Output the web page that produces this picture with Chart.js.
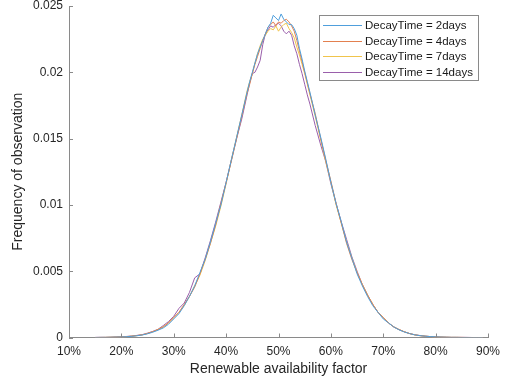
<!DOCTYPE html>
<html>
<head>
<meta charset="utf-8">
<script src="https://cdn.jsdelivr.net/npm/chart.js@4.4.0/dist/chart.umd.min.js"></script>
<style>
  html, body { margin:0; padding:0; background:#fff; }
  canvas { display:block; }
</style>
</head>
<body>
<canvas id="chart" width="505" height="383"></canvas>
<script>
// renewable availability factor (%), 1% steps in the tails, 0.5% near the peak
const xs = [15,16,17,18,19,20,21,22,23,24,25,26,27,28,29,30,31,32,33,34,35,36,37,38,39,40,41,42,43,
  44,44.5,45,45.5,46,46.5,47,47.5,48,48.5,49,49.5,50,50.5,51,51.5,52,52.5,53,53.5,54,54.5,55,55.5,56,
  57,58,59,60,61,62,63,64,65,66,67,68,69,70,71,72,73,74,75,76,77,78,79,80,81,82,83,84,85,86,87,88,89];

const decay2 = [0,0.00001,0.00001,0.00002,0.00003,0.00004,0.00006,0.00009,0.00013,0.00019,
  0.00028,0.0004,0.00055,0.00072,0.001,0.0014,0.0018,0.0024,0.0031,0.0039,
  0.0049,0.0059,0.0072,0.0086,0.0100,0.0117,0.0134,0.0151,0.0168,
  0.0185,0.0193,0.0200,0.0207,0.0214,0.0219,0.0224,0.0229,0.0234,0.0237,0.0243,0.0241,0.0239,
  0.0244,0.0240,0.0238,0.0236,0.0236,0.0233,0.0228,0.0218,0.0210,0.0201,0.0193,0.0185,
  0.0168,0.0152,0.0135,0.0117,0.0101,0.0087,0.0072,0.0060,0.0048,0.0039,
  0.0031,0.0024,0.0019,0.0014,0.0011,0.0008,0.00058,0.00042,0.0003,0.0002,
  0.00014,0.0001,0.00007,0.00005,0.00003,0.00002,0.00001,0.00001,0,0,0,0,0];

const decay4 = [0,0.00001,0.00001,0.00002,0.00003,0.00005,0.00007,0.0001,0.00015,0.0002,
  0.00031,0.00044,0.0006,0.0008,0.0011,0.0015,0.0019,0.0025,0.0031,0.0038,
  0.0048,0.0059,0.0071,0.0085,0.0101,0.0117,0.0133,0.0150,0.0167,
  0.0184,0.0191,0.0199,0.0206,0.0212,0.0218,0.0224,0.0229,0.0234,0.0236,0.0238,0.0235,0.0238,
  0.0237,0.0239,0.0240,0.0238,0.0235,0.0231,0.0224,0.0216,0.0208,0.0200,0.0192,0.0184,
  0.0169,0.0151,0.0134,0.0118,0.0101,0.0086,0.0071,0.0059,0.0049,0.0040,
  0.0032,0.0025,0.0019,0.0015,0.0011,0.0008,0.0006,0.00044,0.0003,0.0002,
  0.00014,0.0001,0.00007,0.00005,0.00003,0.00002,0.00001,0.00001,0.00001,0,0,0,0];

const decay7 = [0,0,0.00001,0.00002,0.00003,0.00005,0.00007,0.0001,0.00014,0.0002,
  0.0003,0.00043,0.0006,0.0008,0.0011,0.0015,0.0019,0.0024,0.0031,0.0039,
  0.0047,0.0058,0.0071,0.0084,0.0099,0.0116,0.0134,0.0151,0.0168,
  0.0186,0.0193,0.0199,0.0207,0.0214,0.0220,0.0225,0.0228,0.0231,0.0233,0.0232,0.0235,0.0231,
  0.0234,0.0236,0.0237,0.0233,0.0230,0.0226,0.0219,0.0213,0.0206,0.0199,0.0191,0.0183,
  0.0167,0.0150,0.0133,0.0117,0.0100,0.0086,0.0072,0.0060,0.0049,0.0040,
  0.0032,0.0025,0.0019,0.0015,0.0011,0.0008,0.0006,0.00043,0.0003,0.0002,
  0.00014,0.0001,0.00007,0.00004,0.00003,0.00002,0.00001,0.00001,0,0,0,0,0];

const decay14 = [0.00001,0.00001,0.00001,0.00002,0.00004,0.00005,0.00008,0.00011,0.00016,0.00022,
  0.00033,0.00046,0.00062,0.0009,0.0012,0.0016,0.0022,0.0026,0.0034,0.0045,
  0.0048,0.0060,0.0073,0.0087,0.0102,0.0117,0.0134,0.0150,0.0165,
  0.0183,0.0192,0.0199,0.0200,0.0204,0.0209,0.0221,0.0229,0.0232,0.0235,0.0234,0.0236,0.0237,
  0.0235,0.0231,0.0229,0.0231,0.0228,0.0220,0.0214,0.0206,0.0199,0.0191,0.0183,0.0176,
  0.0160,0.0146,0.0133,0.0116,0.0101,0.0087,0.0074,0.0061,0.0050,0.0040,
  0.0032,0.0025,0.0019,0.0015,0.0011,0.0008,0.0006,0.00043,0.0003,0.00021,
  0.00015,0.0001,0.00007,0.00005,0.00003,0.00002,0.00001,0.00001,0.00001,0.00001,0,0,0];

const seriesLabels = ['DecayTime = 2days', 'DecayTime = 4days', 'DecayTime = 7days', 'DecayTime = 14days'];
const seriesColors = ['#4f9fdc', '#e3804f', '#f0c44c', '#9a5fab'];
const xTicks = [10, 20, 30, 40, 50, 60, 70, 80, 90];
const yTicks = [0, 0.005, 0.01, 0.015, 0.02, 0.025];

const FONT = "'Liberation Sans', Arial, Helvetica, sans-serif";
const TEXT = '#262626';
const AXIS = '#8a8a8a';

const allSeries = [decay2, decay4, decay7, decay14];

// MATLAB style: ticks pointing inward
const inwardTicks = {
  id: 'inwardTicks',
  afterDraw(chart){
    const {ctx, chartArea:a, scales:{x, y}} = chart;
    ctx.save();
    ctx.strokeStyle = AXIS;
    ctx.lineWidth = 1;
    ctx.beginPath();
    xTicks.forEach(v => {
      const px = Math.round(x.getPixelForValue(v)) + 0.5;
      ctx.moveTo(px, a.bottom); ctx.lineTo(px, a.bottom - 4);
    });
    yTicks.forEach(v => {
      const py = Math.round(y.getPixelForValue(v)) + 0.5;
      ctx.moveTo(a.left, py); ctx.lineTo(a.left + 4, py);
    });
    ctx.stroke();
    ctx.restore();
  }
};

// boxed legend in the upper right corner of the axes
const boxLegend = {
  id: 'boxLegend',
  afterDraw(chart){
    const {ctx, chartArea:a} = chart;
    const w = 159, h = 65, rowH = 15.5;
    const left = Math.round(a.right - 10 - w), top = Math.round(a.top + 9);
    ctx.save();
    ctx.fillStyle = '#fff';
    ctx.fillRect(left, top, w, h);
    ctx.strokeStyle = '#8a8a8a';
    ctx.lineWidth = 1;
    ctx.strokeRect(left + 0.5, top + 0.5, w, h);
    ctx.font = '11.5px ' + FONT;
    ctx.textBaseline = 'middle';
    chart.data.datasets.forEach((ds, i) => {
      const cy = Math.round(top + 10 + i * rowH) + 0.5;
      ctx.strokeStyle = ds.borderColor;
      ctx.beginPath();
      ctx.moveTo(left + 4, cy); ctx.lineTo(left + 43, cy);
      ctx.stroke();
      ctx.fillStyle = '#1a1a1a';
      ctx.fillText(ds.label, left + 46, cy);
    });
    ctx.restore();
  }
};

new Chart(document.getElementById('chart'), {
  type: 'line',
  data: {
    datasets: allSeries.map((arr, i) => ({
      label: seriesLabels[i],
      data: xs.map((x, j) => ({x: x, y: arr[j]})),
      borderColor: seriesColors[i],
      borderWidth: 1,
      pointRadius: 0,
      tension: 0,
      fill: false
    }))
  },
  options: {
    responsive: false,
    animation: false,
    devicePixelRatio: 1,
    layout: { padding: { top: 6, right: 17, left: 0, bottom: 0 } },
    plugins: { legend: { display: false }, tooltip: { enabled: false } },
    scales: {
      x: {
        type: 'linear',
        min: 10, max: 90,
        afterBuildTicks: s => { s.ticks = xTicks.map(v => ({value: v})); },
        afterFit: s => { s.height = 45.5; s.paddingLeft = 0; s.paddingRight = 0; },
        grid: { display: false, drawTicks: false },
        border: { display: true, color: AXIS, width: 1 },
        ticks: { color: TEXT, font: { family: FONT, size: 12 }, padding: 7, maxRotation: 0,
                 callback: v => v + '%' },
        title: { display: true, text: 'Renewable availability factor', color: TEXT,
                 font: { family: FONT, size: 14 }, padding: { top: 0, bottom: 5 } }
      },
      y: {
        min: 0, max: 0.025,
        afterBuildTicks: s => { s.ticks = yTicks.map(v => ({value: v})); },
        afterFit: s => { s.width = 69; s.paddingTop = 0; s.paddingBottom = 0; },
        grid: { display: false, drawTicks: false },
        border: { display: true, color: AXIS, width: 1 },
        ticks: { color: TEXT, font: { family: FONT, size: 12 }, padding: 6,
                 callback: v => String(+v.toFixed(3)) },
        title: { display: true, text: 'Frequency of observation', color: TEXT,
                 font: { family: FONT, size: 14 }, padding: { top: 10, bottom: 0 } }
      }
    }
  },
  plugins: [inwardTicks, boxLegend]
});
</script>
</body>
</html>
